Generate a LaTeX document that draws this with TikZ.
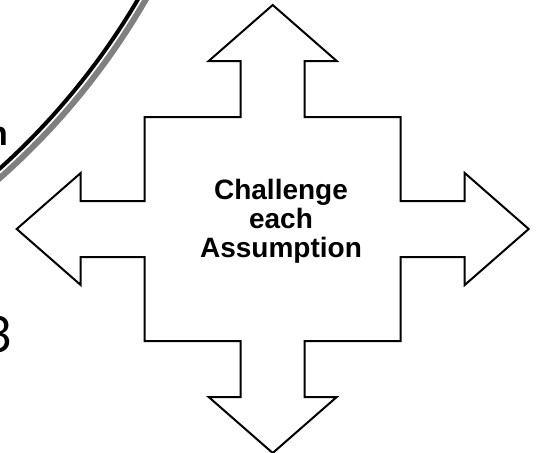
\documentclass[tikz,border=0pt]{standalone}
\usepackage{fontspec}
\setmainfont{Liberation Sans}
\newfontfamily\chiffre{Lato}
\usepackage{tikz}

\begin{document}
\begin{tikzpicture}[x=1pt,y=-1pt]
% Styles (MODIFIABLES)
\tikzstyle{contour}=[draw=black,line width=2pt,line join=miter,fill=white]
\tikzstyle{bord}=[draw=black,line width=4pt,fill=white]
\tikzstyle{ombre}=[draw=black!50,line width=6pt]
\tikzstyle{texte}=[align=center,font=\fontsize{28}{29}\selectfont\bfseries]
% Dimensions (MODIFIABLES)
\def\CentreX{272.7}
\def\CentreY{229}
\def\UniteX{32}
\def\UniteY{28}
% Cadre
\useasboundingbox (0,0) rectangle (539,453);
\clip (0,0) rectangle (539,453);
% Cercle
\draw[ombre] (-473,-357) circle (714);
\draw[bord] (-478,-362) circle (714);
\node[anchor=base east,inner sep=0pt,font=\fontsize{34}{36}\selectfont\bfseries] (fin) at (8,145) {n};
\node[anchor=base east,inner sep=0pt,font=\fontsize{50}{52}\selectfont\chiffre] (trois) at (13,352) {3};
% Croix
\begin{scope}[shift={(\CentreX,\CentreY)},xscale=\UniteX,yscale=\UniteY]
\draw[contour] (0,-8) -- (2,-6) -- (1,-6) -- (1,-4) -- (4,-4) -- (4,-1) -- (6,-1) -- (6,-2)
  -- (8,0) -- (6,2) -- (6,1) -- (4,1) -- (4,4) -- (1,4) -- (1,6) -- (2,6)
  -- (0,8) -- (-2,6) -- (-1,6) -- (-1,4) -- (-4,4) -- (-4,1) -- (-6,1) -- (-6,2)
  -- (-8,0) -- (-6,-2) -- (-6,-1) -- (-4,-1) -- (-4,-4) -- (-1,-4) -- (-1,-6) -- (-2,-6) -- cycle;
\end{scope}
% Texte
\node[texte] (centre) at (281,221) {Challenge\\each\\Assumption};
\end{tikzpicture}
\end{document}
